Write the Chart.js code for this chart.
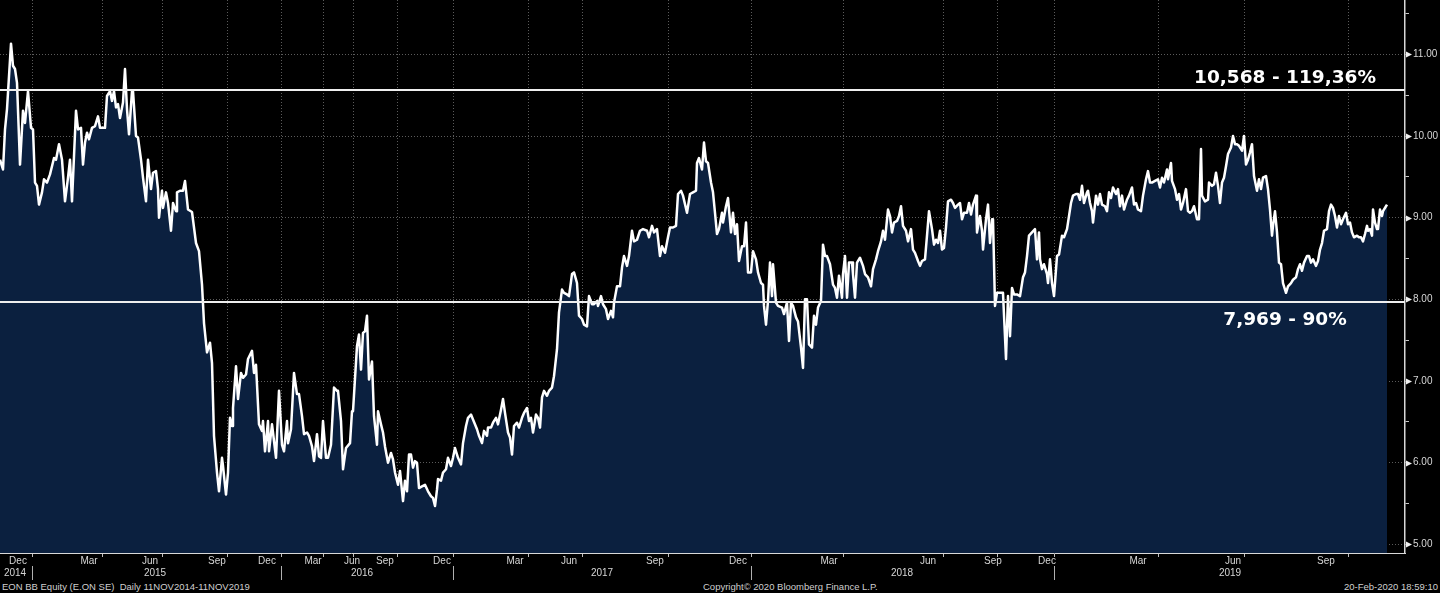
<!DOCTYPE html>
<html><head><meta charset="utf-8">
<script src="https://cdn.jsdelivr.net/npm/chart.js@4.4.1/dist/chart.umd.min.js"></script>
<style>
html,body{margin:0;padding:0;background:#000;width:1440px;height:593px;overflow:hidden}
#wrap{position:relative;width:1440px;height:593px}
canvas{display:block}
.foot{position:absolute;top:580px;font:9.5px "Liberation Sans",Arial,sans-serif;color:#cfcfcf;white-space:pre;line-height:13px}
</style></head><body>
<div id="wrap"><canvas id="c" width="1440" height="580"></canvas>
<div class="foot" style="left:2px">EON BB Equity (E.ON SE)  Daily 11NOV2014-11NOV2019</div>
<div class="foot" style="left:703px">Copyright© 2020 Bloomberg Finance L.P.</div>
<div class="foot" style="right:2px">20-Feb-2020 18:59:10</div>
</div>
<script>
// Session index (x) and closing price (y)
const sessions = [
0,3,5,7,11,13,15,17,20,23,
25,28,31,33,35,37,39,42,44,47,
50,54,56,59,62,65,68,70,72,76,
78,81,83,85,87,89,92,95,98,100,
105,107,110,112,114,116,118,120,123,125,
127,129,132,133,136,138,141,143,146,148,
151,153,156,158,159,162,163,166,168,171,
173,176,177,180,183,185,188,192,196,199,
202,204,207,210,212,214,217,219,222,223,
226,228,230,232,233,236,238,241,243,246,
248,252,254,256,259,262,263,265,268,269,
272,273,276,279,282,284,287,288,291,294,
297,299,302,304,307,309,312,314,317,319,
321,323,326,328,331,334,337,338,341,343,
346,350,352,353,357,359,361,363,365,367,
369,372,374,377,378,381,383,385,388,391,
393,395,398,400,403,405,407,409,411,413,
415,417,419,422,425,428,431,433,435,437,
438,441,443,446,448,451,453,455,458,461,
463,466,468,471,473,477,479,482,484,487,
488,491,493,496,498,501,503,505,508,510,
512,514,517,519,522,524,527,529,531,533,
536,538,540,542,544,547,549,552,554,557,
559,562,564,567,569,572,574,577,579,582,
584,587,589,592,594,597,598,601,603,606,
608,611,613,614,617,620,622,624,627,629,
632,634,637,640,643,647,649,652,654,657,
660,662,665,668,670,673,676,678,681,683,
687,690,693,696,697,699,702,704,706,708,
711,713,715,717,719,722,723,726,728,731,
733,735,737,739,742,744,746,748,751,753,
756,758,761,763,764,766,768,770,772,773,
776,778,782,784,787,789,791,793,796,798,
801,803,805,807,809,812,814,816,818,821,
823,825,827,830,833,835,837,839,842,843,
845,847,849,852,853,855,857,860,863,865,
868,871,873,876,878,881,883,885,888,890,
892,894,897,899,901,903,906,908,911,913,
915,918,920,922,925,927,929,932,934,936,
938,940,942,944,946,948,951,953,955,958,
960,962,964,967,969,971,973,976,977,980,
982,983,986,988,990,992,993,995,997,998,
1001,1003,1006,1008,1010,1012,1014,1017,1020,1023,
1025,1027,1029,1032,1035,1037,1039,1040,1042,1044,
1047,1048,1050,1052,1054,1057,1059,1062,1064,1067,
1068,1071,1073,1076,1078,1080,1082,1084,1087,1088,
1090,1092,1093,1096,1098,1100,1102,1105,1107,1109,
1111,1113,1116,1118,1120,1122,1124,1127,1129,1132,
1134,1136,1138,1141,1143,1146,1148,1150,1152,1155,
1158,1160,1162,1164,1167,1168,1171,1172,1175,1177,
1179,1181,1183,1186,1188,1190,1192,1194,1197,1199,
1201,1202,1205,1208,1209,1212,1214,1216,1218,1220,
1222,1224,1226,1228,1231,1233,1235,1237,1239,1242,
1244,1246,1248,1250,1252,1254,1257,1259,1261,1263,
1266,1268,1270,1272,1273,1275,1277,1279,1281,1283,
1286,1288,1291,1293,1296,1298,1300,1302,1304,1307,
1309,1311,1313,1316,1318,1320,1322,1324,1327,1329,
1331,1333,1335,1337,1339,1341,1343,1346,1348,1350,
1352,1354,1357,1359,1361,1363,1365,1367,1368,1370,
1372,1373,1375,1377,1378,1380,1382,1383,1386,1387
];
const closes = [
9.71,9.59,10.08,10.33,11.13,10.86,10.82,10.65,9.65,10.31,
10.16,10.55,10.10,10.08,9.43,9.39,9.16,9.31,9.47,9.43,
9.53,9.73,9.71,9.90,9.71,9.20,9.49,9.71,9.20,10.31,
10.08,10.10,9.65,9.92,10.04,9.96,10.10,10.12,10.24,10.10,
10.10,10.49,10.55,10.43,10.55,10.35,10.39,10.22,10.41,10.82,
10.33,10.02,10.55,10.55,10.00,9.98,9.71,9.49,9.20,9.71,
9.35,9.55,9.57,9.35,9.00,9.33,9.12,9.31,9.18,8.84,
9.18,9.08,9.31,9.33,9.33,9.45,9.10,9.07,8.69,8.59,
8.18,7.71,7.35,7.47,7.22,6.33,5.88,5.65,6.06,5.96,
5.61,5.88,6.55,6.45,6.67,7.18,6.78,7.10,7.04,7.08,
7.27,7.37,7.10,7.20,6.47,6.39,6.51,6.14,6.51,6.14,
6.47,6.37,6.06,6.88,6.22,6.14,6.51,6.24,6.41,7.10,
6.84,6.84,6.57,6.35,6.37,6.33,6.20,6.02,6.35,6.08,
6.06,6.51,6.06,6.06,6.22,6.92,6.88,6.88,6.51,5.92,
6.18,6.24,6.63,6.63,7.43,7.57,7.14,7.59,7.61,7.80,
7.02,7.24,6.57,6.22,6.63,6.47,6.37,6.20,6.00,6.12,
6.04,5.88,5.73,5.90,5.53,5.78,5.65,6.10,6.10,5.94,
6.02,6.00,5.69,5.71,5.73,5.65,5.59,5.57,5.47,5.67,
5.80,5.78,5.88,5.92,6.06,5.96,6.06,6.18,6.06,5.98,
6.24,6.45,6.55,6.59,6.53,6.41,6.33,6.24,6.39,6.33,
6.43,6.43,6.49,6.55,6.47,6.65,6.78,6.61,6.37,6.31,
6.10,6.45,6.49,6.43,6.55,6.61,6.67,6.51,6.55,6.37,
6.59,6.55,6.43,6.80,6.88,6.82,6.88,6.92,7.06,7.39,
7.84,8.12,8.08,8.06,8.04,8.31,8.33,8.20,7.80,7.76,
7.69,7.67,8.04,7.94,7.94,7.98,7.92,8.04,7.94,7.88,
7.76,7.86,7.78,7.96,8.16,8.16,8.39,8.53,8.41,8.53,
8.84,8.71,8.73,8.84,8.86,8.84,8.76,8.90,8.82,8.86,
8.53,8.65,8.57,8.76,8.88,8.88,8.90,9.29,9.33,9.27,
9.06,9.29,9.31,9.33,9.67,9.73,9.59,9.92,9.69,9.67,
9.43,9.31,9.06,8.80,8.86,9.06,8.94,9.14,9.24,8.82,
9.06,8.80,8.92,8.47,8.65,8.65,8.94,8.33,8.33,8.59,
8.49,8.33,8.20,8.18,7.92,7.69,7.98,8.45,8.04,8.43,
7.96,7.92,7.90,7.82,7.96,7.49,7.96,7.92,7.78,7.73,
7.41,7.16,8.00,8.00,7.45,7.41,7.80,7.69,7.90,7.98,
8.67,8.53,8.53,8.43,8.18,8.14,8.02,8.29,8.02,8.31,
8.53,8.02,8.45,8.45,8.31,8.02,8.45,8.51,8.41,8.31,
8.27,8.16,8.37,8.49,8.59,8.71,8.84,8.73,9.10,9.02,
8.82,8.94,8.96,9.02,9.14,8.90,8.84,8.71,8.86,8.61,
8.57,8.47,8.41,8.47,8.49,8.78,9.08,8.86,8.67,8.73,
8.69,8.84,8.61,8.63,8.88,9.20,9.22,9.18,9.12,9.16,
9.18,8.98,9.06,9.06,9.18,9.04,9.16,9.27,8.82,9.02,
8.84,8.61,8.98,9.16,8.69,8.98,8.98,7.92,8.08,8.08,
8.08,8.08,7.27,8.04,7.55,8.14,8.06,8.06,8.04,8.27,
8.33,8.53,8.78,8.82,8.86,8.49,8.82,8.49,8.37,8.43,
8.31,8.20,8.49,8.20,8.04,8.53,8.55,8.78,8.76,8.86,
8.94,9.18,9.27,9.29,9.29,9.22,9.39,9.18,9.31,9.33,
9.18,9.08,8.94,9.27,9.16,9.29,9.16,9.14,9.08,9.31,
9.24,9.37,9.29,9.35,9.14,9.27,9.10,9.22,9.27,9.37,
9.16,9.18,9.10,9.08,9.27,9.47,9.57,9.43,9.43,9.45,
9.47,9.37,9.49,9.43,9.59,9.47,9.67,9.45,9.35,9.22,
9.29,9.10,9.18,9.35,9.08,9.06,9.08,9.14,8.98,8.98,
9.84,9.27,9.20,9.22,9.43,9.39,9.41,9.55,9.39,9.18,
9.43,9.49,9.63,9.78,9.86,10.00,9.90,9.90,9.88,9.82,
10.00,9.65,9.71,9.80,9.90,9.51,9.33,9.47,9.35,9.49,
9.51,9.35,9.10,8.78,8.90,9.08,8.82,8.45,8.43,8.20,
8.08,8.16,8.20,8.24,8.27,8.37,8.43,8.35,8.45,8.53,
8.53,8.45,8.49,8.41,8.47,8.61,8.69,8.84,8.86,9.08,
9.16,9.12,9.02,8.88,9.02,8.92,8.98,9.06,8.92,8.94,
8.82,8.76,8.78,8.76,8.76,8.71,8.80,8.90,8.84,8.86,
8.78,9.10,8.94,8.86,8.86,9.10,9.02,9.08,9.14,9.16
];

// Axis ticks (in session units) and labels
const quarterEnds = [32,103,162,227,281,323,354,397,453,528,582,668,751,843,943,997,1054,1158,1244,1348];
const monthTickAt = [18,89,150,217,267,313,352,385,442,515,569,655,738,829,928,993,1047,1138,1233,1326];
const monthNames  = ['Dec','Mar','Jun','Sep','Dec','Mar','Jun','Sep','Dec','Mar','Jun','Sep','Dec','Mar','Jun','Sep','Dec','Mar','Jun','Sep'];
const yearTickAt  = [15,155,362,602,902,1230];
const yearNames   = ['2014','2015','2016','2017','2018','2019'];
const yearBounds  = [32,281,453,751,1054];
const yTickValues = [5,5.5,6,6.5,7,7.5,8,8.5,9,9.5,10,10.5,11,11.5];

// Horizontal reference levels
const levelValues = [10.568, 7.969];
const levelTexts  = ['10,568 - 119,36%', '7,969 - 90%'];
const levelTextAt = 1285;

const X_MIN = 0, X_MAX = 1405, Y_MIN = 4.895, Y_MAX = 11.665;

const GRID = 'rgba(165,165,165,0.55)';
const LBL = '#d6d6d6';

const overlay = {
  id: 'overlay',
  afterDraw(chart) {
    const {ctx, chartArea: a, scales} = chart;
    const x = scales.x, y = scales.y, xy = scales.xy;
    ctx.save();
    levelValues.forEach((lv, i) => {
      const py = Math.round(y.getPixelForValue(lv));
      ctx.strokeStyle = '#eeeeee';
      ctx.lineWidth = 2;
      ctx.beginPath(); ctx.moveTo(a.left, py); ctx.lineTo(a.right, py); ctx.stroke();
      ctx.font = 'bold 18.5px "DejaVu Sans", sans-serif';
      ctx.fillStyle = '#ffffff';
      ctx.textAlign = 'center';
      ctx.textBaseline = 'alphabetic';
      const tx = x.getPixelForValue(levelTextAt);
      ctx.fillText(levelTexts[i], tx, i === 0 ? py - 7 : py + 23);
    });
    ctx.fillStyle = '#f0f0f0';
    yTickValues.filter(v => Number.isInteger(v)).forEach(v => {
      const py = Math.round(y.getPixelForValue(v)) + 0.5;
      ctx.beginPath();
      ctx.moveTo(a.right + 1, py - 3);
      ctx.lineTo(a.right + 7, py);
      ctx.lineTo(a.right + 1, py + 3);
      ctx.closePath(); ctx.fill();
    });
    ctx.strokeStyle = '#b0b0b0';
    ctx.lineWidth = 1;
    yearBounds.forEach(v => {
      const px = Math.round(x.getPixelForValue(v)) + 0.5;
      ctx.beginPath(); ctx.moveTo(px, xy.top - 1); ctx.lineTo(px, xy.bottom); ctx.stroke();
    });
    ctx.restore();
  }
};

new Chart(document.getElementById('c'), {
  type: 'line',
  data: {
    datasets: [{
      data: sessions.map((s, i) => ({x: s, y: closes[i]})),
      borderColor: '#ffffff',
      borderWidth: 2.5,
      borderJoinStyle: 'round',
      backgroundColor: '#0b203f',
      fill: 'start',
      pointRadius: 0,
      tension: 0
    }]
  },
  options: {
    responsive: false,
    animation: false,
    events: [],
    layout: {padding: 0},
    plugins: {legend: {display: false}, tooltip: {enabled: false}},
    scales: {
      x: {
        type: 'linear', position: 'bottom', min: X_MIN, max: X_MAX, weight: 0, z: 1,
        afterBuildTicks: s => { s.ticks = quarterEnds.map(v => ({value: v})); },
        afterFit: s => { s.height = 2; s.paddingLeft = 0; s.paddingRight = 0; },
        ticks: {display: false},
        grid: {color: GRID, lineWidth: 1, drawTicks: true, tickLength: 4, tickColor: '#bdbdbd'},
        border: {display: true, color: '#d8d8d8', width: 1, dash: [1, 2]}
      },
      xm: {
        type: 'linear', position: 'bottom', min: X_MIN, max: X_MAX, weight: 1,
        afterBuildTicks: s => { s.ticks = monthTickAt.map(v => ({value: v})); },
        afterFit: s => { s.height = 12; s.paddingLeft = 0; s.paddingRight = 0; },
        ticks: {callback: (v, i) => monthNames[i], autoSkip: false, maxRotation: 0, minRotation: 0, padding: 0,
                color: LBL, font: {family: '"Liberation Sans", Arial, sans-serif', size: 10}},
        grid: {display: false, drawTicks: false},
        border: {display: false}
      },
      xy: {
        type: 'linear', position: 'bottom', min: X_MIN, max: X_MAX, weight: 2,
        afterBuildTicks: s => { s.ticks = yearTickAt.map(v => ({value: v})); },
        afterFit: s => { s.height = 13; s.paddingLeft = 0; s.paddingRight = 0; },
        ticks: {callback: (v, i) => yearNames[i], autoSkip: false, maxRotation: 0, minRotation: 0, padding: 0,
                color: LBL, font: {family: '"Liberation Sans", Arial, sans-serif', size: 10}},
        grid: {display: false, drawTicks: false},
        border: {display: false}
      },
      y: {
        type: 'linear', position: 'right', min: Y_MIN, max: Y_MAX, z: 1,
        afterBuildTicks: s => { s.ticks = yTickValues.map(v => ({value: v})); },
        afterFit: s => { s.width = 35; s.paddingTop = 0; s.paddingBottom = 0; },
        ticks: {callback: v => Number.isInteger(v) ? v.toFixed(2) : '', autoSkip: false, padding: 4,
                color: LBL, font: {family: '"Liberation Sans", Arial, sans-serif', size: 10}},
        grid: {color: c => (c.tick && Number.isInteger(c.tick.value)) ? GRID : 'rgba(0,0,0,0)',
               lineWidth: 1, drawTicks: true, tickLength: 4, tickColor: '#c8c8c8'},
        border: {display: true, color: '#d8d8d8', width: 1.5, dash: [1, 2]}
      }
    }
  },
  plugins: [overlay]
});
</script>
</body></html>
